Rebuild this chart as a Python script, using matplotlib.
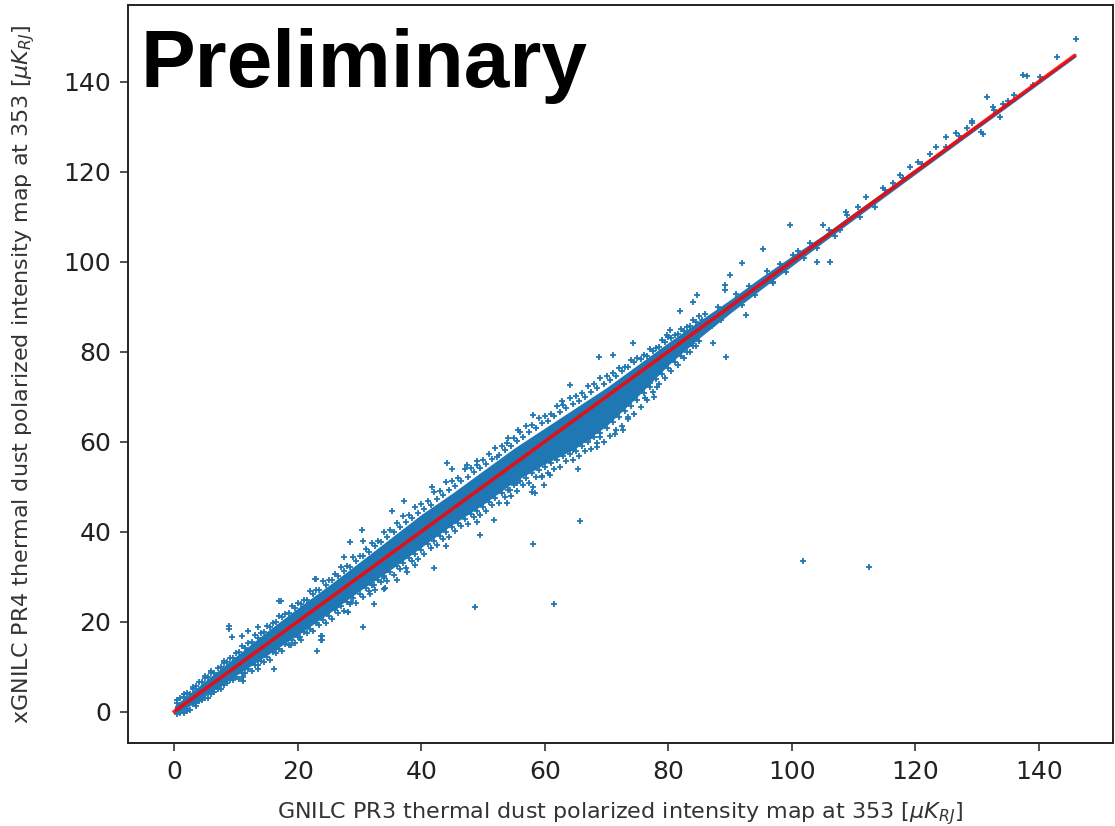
import matplotlib
matplotlib.use("Agg")
import matplotlib.pyplot as plt

# dense core of the scatter band (x, lower edge, upper edge)
core_x = [0, 2, 5, 10, 15, 20, 25, 30, 35, 40, 45, 50, 55, 60, 65, 70, 75,
          80, 85, 90, 95, 100, 105, 110, 120, 146]
core_lo = [-0.5, 0.8, 3.5, 8.0, 12.5, 17.0, 21.8, 26.8, 31.5, 36.5, 41.5, 46.0,
           51.0, 55.0, 58.5, 63.5, 70.0, 77.0, 83.0, 88.5, 93.8, 99.0, 104.2,
           109.3, 119.4, 145.5]
core_hi = [1.2, 3.5, 6.8, 12.3, 17.8, 23.0, 28.0, 33.2, 38.5, 43.8, 48.5, 53.5,
           58.5, 63.0, 67.5, 72.0, 77.0, 82.0, 86.8, 91.5, 96.5, 101.2, 105.8,
           110.8, 120.6, 146.3]

# speckled edges of the band
edge_x_a = [1, 2, 3, 4, 5, 6, 7, 8, 9, 10, 11, 12, 13, 14, 15, 16, 17, 18, 19, 20,
            21, 22, 23, 24, 25, 26, 27, 28, 29, 30, 31, 32, 33, 34, 35, 36, 37, 38,
            39, 40, 41, 42, 43, 44, 45, 46, 47, 48, 49, 50, 51, 52, 53, 54, 55, 56,
            57, 58, 59, 60, 61, 62, 63, 64, 65, 66, 67, 68, 69, 70, 71, 72, 73, 74,
            75, 76, 77, 78, 79, 80, 81, 82, 83, 84, 85]
edge_x_b = [0.5, 1.5, 2.5, 3.5, 4.5, 5.5, 6.5, 7.5, 8.5, 9.5, 10.5, 11.5, 12.5,
            13.5, 14.5, 15.5, 16.5, 17.5, 18.5, 19.5, 20.5, 21.5, 22.5, 23.5, 24.5,
            25.5, 26.5, 27.5, 28.5, 29.5, 30.5, 31.5, 32.5, 33.5, 34.5, 35.5, 36.5,
            37.5, 38.5, 39.5, 40.5, 41.5, 42.5, 43.5, 44.5, 45.5, 46.5, 47.5, 48.5,
            49.5, 50.5, 51.5, 52.5, 53.5, 54.5, 55.5, 56.5, 57.5, 58.5, 59.5, 60.5,
            61.5, 62.5, 63.5, 64.5, 65.5, 66.5, 67.5, 68.5, 69.5, 70.5, 71.5, 72.5,
            73.5, 74.5, 75.5, 76.5, 77.5, 78.5, 79.5, 80.5, 81.5, 82.5, 83.5, 84.5]
up_outer = [2.9, 4.2, 5.0, 6.6, 7.4, 8.9, 9.6, 11.2, 11.9, 13.1, 14.6, 15.2, 16.9,
            17.4, 19.1, 19.7, 21.3, 21.6, 23.4, 24.1, 24.8, 26.7, 27.0, 28.9, 29.3,
            30.6, 32.1, 32.4, 34.3, 34.6, 36.2, 37.5, 37.9, 40.0, 40.3, 41.8, 43.4,
            43.6, 45.5, 46.1, 46.7, 48.8, 49.0, 50.9, 51.2, 52.0, 53.8, 54.1, 55.7,
            55.9, 57.2, 58.6, 58.9, 60.7, 60.8, 62.1, 63.4, 63.6, 65.3, 65.7, 66.2,
            67.9, 68.1, 69.6, 70.2, 70.8, 72.4, 72.7, 74.2, 74.6, 75.3, 76.4, 76.6,
            78.1, 78.5, 79.2, 80.6, 80.8, 82.5, 83.2, 83.7, 84.9, 85.4, 86.9, 87.8]
dn_inner = [0.1, 0.5, 1.7, 2.4, 3.1, 3.9, 5.1, 5.9, 7.0, 7.6, 8.6, 9.5, 10.4, 11.3,
            12.1, 13.2, 13.9, 15.0, 15.8, 16.5, 17.7, 18.4, 19.6, 20.4, 21.3, 22.5,
            23.4, 24.4, 25.3, 26.2, 27.4, 28.1, 29.3, 30.2, 31.0, 32.3, 33.1, 34.2,
            35.1, 36.0, 37.2, 38.0, 39.1, 40.0, 40.9, 41.9, 42.7, 43.8, 44.6, 45.4,
            46.6, 47.4, 48.5, 49.3, 50.3, 51.2, 51.9, 53.0, 53.7, 54.4, 55.3, 55.8,
            56.7, 57.3, 57.9, 59.0, 59.9, 61.1, 61.8, 62.9, 64.3, 65.4, 66.8, 68.0,
            69.3, 70.8, 72.1, 73.8, 75.0, 76.3, 77.6, 78.9, 80.0, 81.3, 82.4]
up_inner = [1.9, 3.2, 4.0, 5.6, 6.5, 7.6, 8.6, 9.9, 11.0, 12.0, 13.2, 14.1, 15.4,
            16.3, 17.6, 18.7, 19.8, 20.9, 21.9, 22.9, 24.0, 24.8, 26.1, 27.0, 28.1,
            29.2, 30.1, 31.3, 32.2, 33.4, 34.5, 35.4, 36.7, 37.6, 38.8, 39.9, 41.0,
            42.1, 43.0, 44.2, 45.1, 46.0, 47.2, 48.1, 49.3, 50.1, 51.2, 52.1, 53.3,
            54.2, 55.0, 56.2, 57.1, 58.2, 59.1, 60.1, 61.0, 62.2, 63.0, 64.1, 64.6,
            65.6, 66.5, 67.4, 68.4, 69.1, 70.0, 70.9, 71.9, 72.8, 73.6, 74.5, 75.6,
            76.5, 77.6, 78.3, 79.1, 80.1, 81.1, 82.2, 83.0, 83.9, 84.6, 85.6, 86.5]
dn_outer = [-0.6, -0.4, 0.4, 1.3, 2.6, 3.1, 4.4, 5.0, 6.3, 6.9, 7.2, 8.6, 9.1, 10.4,
            11.0, 11.5, 12.9, 13.4, 14.8, 15.3, 16.0, 17.4, 17.8, 19.3, 19.7, 20.6,
            22.0, 22.3, 23.9, 24.2, 25.4, 26.8, 27.1, 28.7, 29.0, 30.4, 31.6, 32.0,
            33.5, 33.9, 35.0, 36.4, 36.9, 38.4, 38.8, 40.1, 41.2, 41.6, 43.2, 43.6,
            44.5, 45.9, 46.3, 47.7, 48.0, 49.1, 50.3, 50.8, 52.1, 52.4, 53.0, 54.0,
            54.3, 55.6, 55.9, 56.8, 57.9, 58.3, 59.6, 60.0, 61.2, 62.6, 63.4, 65.0,
            66.2, 67.6, 69.3, 71.0, 72.8, 74.1, 75.6, 77.0, 78.6, 79.8, 81.2]

# individual points outside the dense band
pts_x = [
    0.5, 1.5, 3.0, 2.0, 4.0, 6.0, 7.0, 8.0, 9.5, 1.0, 5.0, 3.5, 6.5,
    8.9, 8.9, 9.3, 11.0, 12.0, 13.5, 16.2, 11.2, 11.2, 16.9, 13.6, 18.9,
    20.4, 23.9, 23.9, 23.1, 22.8, 28.2, 28.6, 26.3, 17.2, 22.9, 23.8, 23.8,
    30.6, 33.9, 32.3, 28.1, 27.4, 28.5, 30.5, 30.4, 35.2, 37.2, 41.7, 44.2,
    45.0, 42.0, 44.0, 49.5, 49.0, 51.7, 53.8, 54.4, 55.5, 37.7, 36.0, 33.9,
    32.3, 34.1, 31.7, 33.9, 39.0, 49.0, 47.4, 52.2, 48.7, 58.1, 61.5, 65.7,
    65.3, 60.8, 59.5, 58.1, 57.9, 59.8, 58.4, 55.0, 53.8, 55.7, 58.1, 62.7,
    64.1, 68.7, 71.1, 74.3, 81.1, 83.8, 66.5, 64.6, 68.4, 68.9, 67.3, 72.7,
    71.4, 73.5, 76.2, 77.6, 78.1, 77.0, 74.6, 79.7, 80.3, 81.3, 79.3, 83.5,
    81.9, 84.0, 84.6, 85.4, 87.3, 89.3, 92.6, 89.2, 89.2, 90.0, 91.9, 95.4,
    97.0, 99.7, 100.2, 104.0, 106.1, 105.1, 107.8, 101.8, 112.5, 108.0,
    108.8, 111.0, 110.7, 112.0, 113.4, 114.8, 116.4, 117.5, 119.1, 120.4,
    122.3, 123.4, 124.9, 126.6, 128.3, 129.1, 130.7, 131.6, 132.6, 133.7,
    129.1, 130.9, 132.8, 134.2, 137.4, 138.0, 140.1, 143.0, 146.0,
    86.0, 87.0, 88.0, 88.5, 91.0, 92.0, 93.0, 94.0, 96.0, 97.0, 98.0, 99.0,
    101.0, 102.0, 103.0, 104.0, 106.0, 107.0, 109.0, 115.0, 118.0, 121.0,
    125.0, 127.0, 135.0, 136.0, 139.0,
]
pts_y = [
    2.5, 3.8, 5.5, 0.2, 2.5, 8.5, 5.2, 10.8, 7.5, -0.3, 7.8, 1.8, 4.3,
    19.1, 18.3, 16.5, 16.8, 17.9, 9.4, 9.4, 7.6, 6.8, 24.6, 18.8, 14.8,
    16.5, 16.8, 15.9, 13.5, 29.4, 22.2, 24.4, 23.3, 24.6, 29.4, 16.8, 16.0,
    18.7, 27.2, 24.0, 22.2, 34.4, 37.7, 38.0, 40.3, 44.6, 46.8, 50.0, 55.3,
    53.9, 31.8, 36.8, 39.2, 42.2, 42.6, 46.3, 49.2, 50.7, 31.1, 29.2, 29.6,
    28.1, 27.4, 26.1, 31.1, 32.6, 54.8, 54.8, 56.6, 23.3, 37.3, 24.0, 42.3,
    53.9, 52.6, 52.2, 50.0, 48.8, 50.3, 48.5, 50.7, 59.6, 62.6, 65.9, 69.0,
    72.6, 78.8, 79.2, 81.8, 81.8, 81.8, 60.3, 58.1, 58.8, 61.1, 60.7, 62.6,
    61.6, 65.5, 69.6, 70.0, 72.2, 72.9, 71.4, 83.7, 84.8, 80.3, 77.4, 83.3,
    89.1, 91.1, 92.6, 87.0, 81.8, 78.8, 88.1, 94.8, 93.7, 97.0, 99.6, 102.7,
    95.2, 108.1, 101.4, 100.0, 100.0, 108.1, 107.0, 33.4, 32.1, 107.7,
    111.1, 110.0, 112.2, 114.4, 112.2, 116.3, 117.4, 119.2, 121.1, 122.2,
    124.0, 125.5, 127.7, 128.5, 129.6, 131.3, 128.8, 136.6, 134.4, 132.2,
    130.7, 128.4, 133.7, 134.9, 141.4, 141.2, 141.1, 145.5, 149.4,
    88.3, 85.6, 89.9, 87.1, 92.8, 90.4, 94.5, 92.6, 97.8, 95.5, 99.4, 97.6,
    102.3, 100.8, 104.1, 102.9, 107.1, 105.6, 110.3, 115.8, 118.6, 121.7,
    125.4, 127.9, 135.6, 137.0, 139.3,
]

# identity line drawn over the scatter
line_x = [0.0, 145.7]

xticks = [0, 20, 40, 60, 80, 100, 120, 140]
yticks = [0, 20, 40, 60, 80, 100, 120, 140]

blue = "#1f77b4"
mk = dict(marker="+", s=22, linewidths=1.3, color=blue, zorder=2)

fig = plt.figure(figsize=(11.15, 8.26), dpi=100)
ax = fig.add_axes([128 / 1115, 1 - 743 / 826, 985 / 1115, 738 / 826])

ax.fill_between(core_x, core_lo, core_hi, color=blue, lw=0, zorder=2)
ax.scatter(edge_x_a, up_outer, **mk)
ax.scatter(edge_x_a, dn_inner, **mk)
ax.scatter(edge_x_b, up_inner, **mk)
ax.scatter(edge_x_b, dn_outer, **mk)
ax.scatter(pts_x, pts_y, **mk)
ax.plot(line_x, line_x, color="red", lw=2.6, alpha=0.85, zorder=3)

ax.set_xlim(-7.5, 152.0)
ax.set_ylim(-7.0, 157.0)
ax.set_xticks(xticks)
ax.set_yticks(yticks)
ax.tick_params(labelsize=18, length=6, width=1.1, pad=6, colors="#222222")
for sp in ax.spines.values():
    sp.set_linewidth(1.4)
    sp.set_color("#222222")

ax.set_xlabel(r"GNILC PR3 thermal dust polarized intensity map at 353 [$\mu K_{RJ}$]",
              fontsize=16, color="#333333")
ax.set_ylabel(r"xGNILC PR4 thermal dust polarized intensity map at 353 [$\mu K_{RJ}$]",
              fontsize=16, color="#333333")
ax.xaxis.set_label_coords(0.5, -0.077)
ax.yaxis.set_label_coords(-0.092, 0.5)

fig.text(141 / 1115, 1 - 87 / 826, "Preliminary", fontsize=59, fontweight="bold",
         family="Liberation Sans", va="baseline", ha="left", color="black")

fig.savefig("out.png", dpi=100)
